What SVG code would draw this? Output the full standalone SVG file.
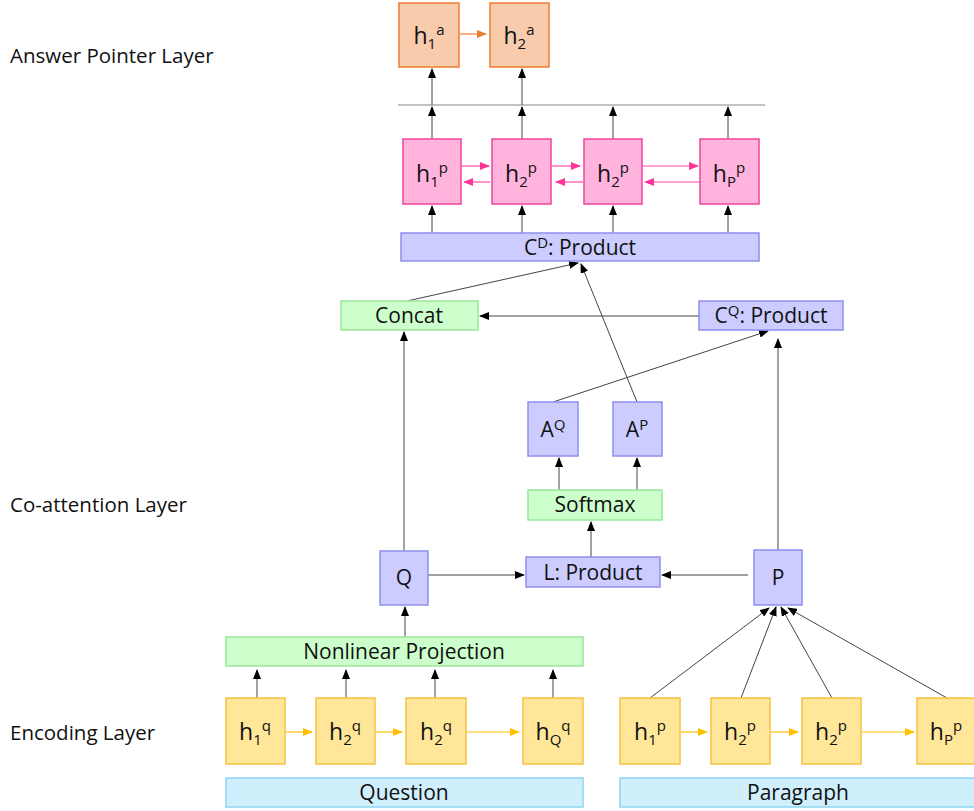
<svg xmlns="http://www.w3.org/2000/svg" width="974" height="811" viewBox="0 0 974 811">
<style>
text{font-family:"Open Sans","Liberation Sans",sans-serif;fill:#111;}
.lbl{font-size:20.5px;}
.t{font-size:21px;text-anchor:middle;}
.h{font-size:23px;text-anchor:middle;}
.sub{font-size:15px;}
.orange{fill:#f8cbad;stroke:#ed7d31;stroke-width:1.5;}
.pink{fill:#ffb3dd;stroke:#f0449a;stroke-width:1.5;}
.blue{fill:#ccccff;stroke:#8f8fee;stroke-width:1.5;}
.green{fill:#ccffcc;stroke:#99e699;stroke-width:1.5;}
.yellow{fill:#ffe699;stroke:#f5c242;stroke-width:1.5;}
.cyan{fill:#d0effc;stroke:#8fd4f2;stroke-width:1.5;}
.c{stroke:#444;stroke-width:1;fill:none;marker-end:url(#ab);}
.cp{stroke:#ff4aa5;stroke-width:1.2;fill:none;marker-end:url(#ap);}
.co{stroke:#ed7d31;stroke-width:1.2;fill:none;marker-end:url(#ao);}
.cy{stroke:#ffc000;stroke-width:1.2;fill:none;marker-end:url(#ay);}
</style>
<defs>
<marker id="ab" markerUnits="userSpaceOnUse" markerWidth="10" markerHeight="8" refX="9" refY="4" orient="auto"><path d="M0,0 L10,4 L0,8 Z" fill="#000"/></marker>
<marker id="ap" markerUnits="userSpaceOnUse" markerWidth="10" markerHeight="8" refX="9" refY="4" orient="auto"><path d="M0,0 L10,4 L0,8 Z" fill="#ff3399"/></marker>
<marker id="ao" markerUnits="userSpaceOnUse" markerWidth="10" markerHeight="8" refX="9" refY="4" orient="auto"><path d="M0,0 L10,4 L0,8 Z" fill="#ed7d31"/></marker>
<marker id="ay" markerUnits="userSpaceOnUse" markerWidth="10" markerHeight="8" refX="9" refY="4" orient="auto"><path d="M0,0 L10,4 L0,8 Z" fill="#ffc000"/></marker>
</defs>
<rect width="974" height="811" fill="#fff"/>

<g id="labels">
<text class="lbl" x="10" y="63">Answer Pointer Layer</text>
<text class="lbl" x="10" y="512">Co-attention Layer</text>
<text class="lbl" x="10" y="740">Encoding Layer</text>
</g>

<g id="connectors">
<line class="co" x1="460" y1="34" x2="486" y2="34"/>
<line x1="398" y1="105" x2="765" y2="105" stroke="#888" stroke-width="1.2"/>
<line class="c" x1="432" y1="105" x2="432" y2="69"/>
<line class="c" x1="522" y1="105" x2="522" y2="69"/>
<line class="c" x1="432" y1="139" x2="432" y2="107"/>
<line class="c" x1="522" y1="139" x2="522" y2="107"/>
<line class="c" x1="613" y1="139" x2="613" y2="107"/>
<line class="c" x1="728" y1="139" x2="728" y2="107"/>
<line class="cp" x1="462" y1="166" x2="489" y2="166"/>
<line class="cp" x1="490" y1="182" x2="464" y2="182"/>
<line class="cp" x1="552" y1="166" x2="580" y2="166"/>
<line class="cp" x1="583" y1="182" x2="556" y2="182"/>
<line class="cp" x1="643" y1="166" x2="698" y2="166"/>
<line class="cp" x1="700" y1="182" x2="645" y2="182"/>
<line class="c" x1="432" y1="233" x2="432" y2="206"/>
<line class="c" x1="522" y1="233" x2="522" y2="206"/>
<line class="c" x1="613" y1="233" x2="613" y2="206"/>
<line class="c" x1="728" y1="233" x2="728" y2="206"/>
<line class="c" x1="407" y1="301" x2="578" y2="263"/>
<line class="c" x1="637" y1="402" x2="581" y2="264"/>
<line class="c" x1="699" y1="316" x2="480" y2="316"/>
<line class="c" x1="553" y1="402" x2="768" y2="331"/>
<line class="c" x1="404" y1="551" x2="404" y2="332"/>
<line class="c" x1="778" y1="550" x2="778" y2="339"/>
<line class="c" x1="559" y1="490" x2="559" y2="458"/>
<line class="c" x1="637" y1="490" x2="637" y2="458"/>
<line class="c" x1="591" y1="557" x2="591" y2="522"/>
<line class="c" x1="428" y1="575" x2="524" y2="575"/>
<line class="c" x1="748" y1="575" x2="662" y2="575"/>
<line class="c" x1="405" y1="637" x2="405" y2="607"/>
<line class="c" x1="257" y1="698" x2="257" y2="670"/>
<line class="c" x1="346" y1="698" x2="346" y2="670"/>
<line class="c" x1="435" y1="698" x2="435" y2="670"/>
<line class="c" x1="553" y1="698" x2="553" y2="670"/>
<line class="cy" x1="286" y1="732" x2="312" y2="732"/>
<line class="cy" x1="376" y1="732" x2="402" y2="732"/>
<line class="cy" x1="467" y1="732" x2="519" y2="732"/>
<line class="cy" x1="681" y1="732" x2="707" y2="732"/>
<line class="cy" x1="771" y1="732" x2="798" y2="732"/>
<line class="cy" x1="862" y1="732" x2="914" y2="732"/>
<line class="c" x1="650" y1="698" x2="769" y2="608"/>
<line class="c" x1="741" y1="698" x2="776" y2="607"/>
<line class="c" x1="832" y1="698" x2="781" y2="607"/>
<line class="c" x1="947" y1="698" x2="788" y2="608"/>
</g>

<g id="h1a"><rect class="orange" x="399" y="3" width="60" height="64"/><text class="h" x="429" y="44">h<tspan class="sub" dy="5">1</tspan><tspan class="sub" dy="-14">a</tspan></text></g>
<g id="h2a"><rect class="orange" x="490" y="3" width="59" height="64"/><text class="h" x="519" y="44">h<tspan class="sub" dy="5">2</tspan><tspan class="sub" dy="-14">a</tspan></text></g>

<g id="hp1"><rect class="pink" x="403" y="139" width="58" height="65"/><text class="h" x="432" y="182">h<tspan class="sub" dy="5">1</tspan><tspan class="sub" dy="-14">p</tspan></text></g>
<g id="hp2"><rect class="pink" x="492" y="139" width="59" height="65"/><text class="h" x="521" y="182">h<tspan class="sub" dy="5">2</tspan><tspan class="sub" dy="-14">p</tspan></text></g>
<g id="hp3"><rect class="pink" x="584" y="139" width="58" height="65"/><text class="h" x="613" y="182">h<tspan class="sub" dy="5">2</tspan><tspan class="sub" dy="-14">p</tspan></text></g>
<g id="hp4"><rect class="pink" x="700" y="139" width="59" height="65"/><text class="h" x="729" y="182">h<tspan class="sub" dy="5">P</tspan><tspan class="sub" dy="-14">p</tspan></text></g>

<g id="cd"><rect class="blue" x="401" y="233" width="358" height="28"/><text class="t" x="580" y="255">C<tspan class="sub" dy="-7">D</tspan><tspan dy="7">: Product</tspan></text></g>
<g id="concat"><rect class="green" x="341" y="301" width="137" height="29"/><text class="t" x="409" y="323">Concat</text></g>
<g id="cq"><rect class="blue" x="699" y="301" width="144" height="29"/><text class="t" x="771" y="323">C<tspan class="sub" dy="-7">Q</tspan><tspan dy="7">: Product</tspan></text></g>
<g id="aq"><rect class="blue" x="528" y="402" width="50" height="54"/><text class="t" x="553" y="437">A<tspan class="sub" dy="-7">Q</tspan></text></g>
<g id="ap"><rect class="blue" x="613" y="402" width="49" height="54"/><text class="t" x="637" y="437">A<tspan class="sub" dy="-7">P</tspan></text></g>
<g id="softmax"><rect class="green" x="528" y="490" width="134" height="30"/><text class="t" x="595" y="512">Softmax</text></g>
<g id="q"><rect class="blue" x="380" y="551" width="48" height="54"/><text class="t" x="404" y="585">Q</text></g>
<g id="l"><rect class="blue" x="526" y="557" width="134" height="30"/><text class="t" x="593" y="580">L: Product</text></g>
<g id="p"><rect class="blue" x="754" y="550" width="48" height="55"/><text class="t" x="778" y="585">P</text></g>
<g id="nlp"><rect class="green" x="226" y="637" width="357" height="29"/><text class="t" x="404" y="659">Nonlinear Projection</text></g>

<g id="hq1"><rect class="yellow" x="226" y="698" width="59" height="66"/><text class="h" x="255" y="740">h<tspan class="sub" dy="5">1</tspan><tspan class="sub" dy="-14">q</tspan></text></g>
<g id="hq2"><rect class="yellow" x="316" y="698" width="59" height="66"/><text class="h" x="345" y="740">h<tspan class="sub" dy="5">2</tspan><tspan class="sub" dy="-14">q</tspan></text></g>
<g id="hq3"><rect class="yellow" x="406" y="698" width="60" height="66"/><text class="h" x="436" y="740">h<tspan class="sub" dy="5">2</tspan><tspan class="sub" dy="-14">q</tspan></text></g>
<g id="hq4"><rect class="yellow" x="523" y="698" width="60" height="66"/><text class="h" x="553" y="740">h<tspan class="sub" dy="5">Q</tspan><tspan class="sub" dy="-14">q</tspan></text></g>
<g id="question"><rect class="cyan" x="226" y="778" width="357" height="29"/><text class="t" x="404" y="800">Question</text></g>

<g id="hpp1"><rect class="yellow" x="620" y="698" width="60" height="66"/><text class="h" x="650" y="740">h<tspan class="sub" dy="5">1</tspan><tspan class="sub" dy="-14">p</tspan></text></g>
<g id="hpp2"><rect class="yellow" x="711" y="698" width="59" height="66"/><text class="h" x="740" y="740">h<tspan class="sub" dy="5">2</tspan><tspan class="sub" dy="-14">p</tspan></text></g>
<g id="hpp3"><rect class="yellow" x="802" y="698" width="59" height="66"/><text class="h" x="831" y="740">h<tspan class="sub" dy="5">2</tspan><tspan class="sub" dy="-14">p</tspan></text></g>
<g id="hpp4"><rect class="yellow" x="917" y="698" width="60" height="66"/><text class="h" x="946" y="740">h<tspan class="sub" dy="5">P</tspan><tspan class="sub" dy="-14">p</tspan></text></g>
<g id="paragraph"><rect class="cyan" x="620" y="778" width="357" height="29"/><text class="t" x="798" y="800">Paragraph</text></g>
</svg>
